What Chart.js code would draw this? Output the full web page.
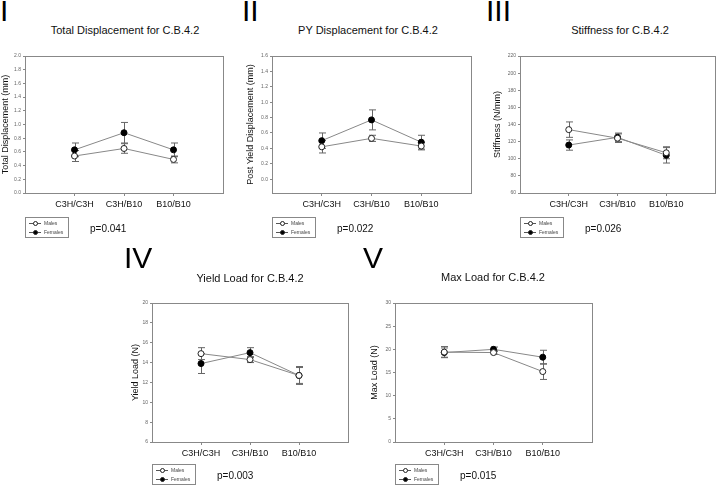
<!DOCTYPE html>
<html>
<head>
<meta charset="utf-8">
<script src="https://cdn.jsdelivr.net/npm/chart.js@4.4.1/dist/chart.umd.min.js"></script>
<style>
  html, body { margin: 0; padding: 0; background: #fff; }
  body { width: 720px; height: 488px; position: relative; overflow: hidden; font-family: "Liberation Sans", Arial, sans-serif; }
  canvas { position: absolute; }
  .roman { position: absolute; font-size: 30px; line-height: 30px; color: #000; }
  .title { position: absolute; width: 240px; margin-left: -120px; text-align: center; font-size: 11px; line-height: 12px; color: #111; }
  .leg { position: absolute; width: 44px; height: 21px; border: 1px solid #888; box-sizing: border-box; font-size: 5px; color: #444; }
  .leg .row { position: absolute; left: 0; height: 8px; line-height: 8px; }
  .leg .ln { position: absolute; left: 3px; top: 4px; width: 12px; height: 1px; background: #555; }
  .leg .mk { position: absolute; left: 7px; top: 2px; width: 3px; height: 3px; border: 1px solid #222; border-radius: 50%; }
  .leg .txt { position: absolute; left: 18px; top: 0; }
  .pval { position: absolute; font-size: 10px; line-height: 12px; color: #111; }
</style>
</head>
<body>
<script>
const categories = ["C3H/C3H", "C3H/B10", "B10/B10"];
const legendLabels = ["Males", "Females"];

// Total displacement (mm)
const totalDispMales = [0.54, 0.65, 0.49];
const totalDispMalesErr = [0.08, 0.07, 0.05];
const totalDispFemales = [0.63, 0.88, 0.63];
const totalDispFemalesErr = [0.10, 0.15, 0.10];
const totalDispTicks = [0, 0.2, 0.4, 0.6, 0.8, 1.0, 1.2, 1.4, 1.6, 1.8, 2.0];

// Post yield displacement (mm)
const pyDispMales = [0.42, 0.53, 0.43];
const pyDispMalesErr = [0.08, 0.04, 0.05];
const pyDispFemales = [0.50, 0.77, 0.48];
const pyDispFemalesErr = [0.10, 0.13, 0.09];
const pyDispTicks = [0, 0.2, 0.4, 0.6, 0.8, 1.0, 1.2, 1.4, 1.6];

// Stiffness (N/mm)
const stiffMales = [134, 124, 107];
const stiffMalesErr = [9, 5, 7];
const stiffFemales = [116, 125, 104];
const stiffFemalesErr = [6, 5, 9];
const stiffTicks = [60, 80, 100, 120, 140, 160, 180, 200, 220];

// Yield load (N)
const yieldMales = [14.9, 14.3, 12.7];
const yieldMalesErr = [0.6, 0.3, 0.8];
const yieldFemales = [13.9, 15.0, 12.7];
const yieldFemalesErr = [1.0, 0.5, 0.9];
const yieldTicks = [6, 8, 10, 12, 14, 16, 18, 20];

// Max load (N)
const maxMales = [19.4, 19.3, 15.2];
const maxMalesErr = [1.2, 0.4, 1.7];
const maxFemales = [19.3, 20.0, 18.3];
const maxFemalesErr = [1.0, 0.5, 1.5];
const maxTicks = [0, 5, 10, 15, 20, 25, 30];

const panels = [
    { numeral: "I", title: "Total Displacement for C.B.4.2", yTitle: "Total Displacement (mm)", p: "p=0.041",
      males: totalDispMales, malesErr: totalDispMalesErr, females: totalDispFemales, femalesErr: totalDispFemalesErr,
      ticks: totalDispTicks, yMin: 0, yMax: 2.0, dec: 1,
      left: 0, top: 40, width: 228, yW: 25, padTop: 16, padRight: 4, numX: 0, numY: -4, titleX: 125, titleY: 24 },
    { numeral: "II", title: "PY Displacement for C.B.4.2", yTitle: "Post Yield Displacement (mm)", p: "p=0.022",
      males: pyDispMales, malesErr: pyDispMalesErr, females: pyDispFemales, femalesErr: pyDispFemalesErr,
      ticks: pyDispTicks, yMin: -0.18, yMax: 1.6, dec: 1,
      left: 245, top: 40, width: 231, yW: 27, padTop: 16, padRight: 4, numX: 242, numY: -4, titleX: 368, titleY: 24 },
    { numeral: "III", title: "Stiffness for C.B.4.2", yTitle: "Stiffness (N/mm)", p: "p=0.026",
      males: stiffMales, malesErr: stiffMalesErr, females: stiffFemales, femalesErr: stiffFemalesErr,
      ticks: stiffTicks, yMin: 60, yMax: 220, dec: 0,
      left: 492, top: 40, width: 228, yW: 28, padTop: 16, padRight: 1, numX: 486, numY: -4, titleX: 620, titleY: 24 },
    { numeral: "IV", title: "Yield Load for C.B.4.2", yTitle: "Yield Load (N)", p: "p=0.003",
      males: yieldMales, malesErr: yieldMalesErr, females: yieldFemales, femalesErr: yieldFemalesErr,
      ticks: yieldTicks, yMin: 6, yMax: 20, dec: 0,
      left: 130, top: 290, width: 223, yW: 22, padTop: 13, padRight: 4, numX: 124, numY: 243, titleX: 250, titleY: 272 },
    { numeral: "V", title: "Max Load for C.B.4.2", yTitle: "Max Load (N)", p: "p=0.015",
      males: maxMales, malesErr: maxMalesErr, females: maxFemales, femalesErr: maxFemalesErr,
      ticks: maxTicks, yMin: 0, yMax: 30, dec: 0,
      left: 369, top: 290, width: 228, yW: 26, padTop: 13, padRight: 4, numX: 363, numY: 243, titleX: 493, titleY: 271 }
];

// error bars drawn under the markers, plus the plot frame
const errorBarPlugin = {
    id: "errorBars",
    beforeDatasetsDraw(chart) {
        const ctx = chart.ctx;
        const xs = chart.scales.x, ys = chart.scales.y;
        ctx.save();
        ctx.strokeStyle = "#666";
        ctx.lineWidth = 1;
        chart.data.datasets.forEach(ds => {
            ds.data.forEach((pt, i) => {
                const e = ds.errors[i];
                const px = Math.round(xs.getPixelForValue(pt.x)) + 0.5;
                const top = ys.getPixelForValue(pt.y + e);
                const bot = ys.getPixelForValue(pt.y - e);
                ctx.beginPath();
                ctx.moveTo(px, top); ctx.lineTo(px, bot);
                ctx.moveTo(px - 3.5, top); ctx.lineTo(px + 3.5, top);
                ctx.moveTo(px - 3.5, bot); ctx.lineTo(px + 3.5, bot);
                ctx.stroke();
            });
        });
        ctx.restore();
    },
    afterDraw(chart) {
        const a = chart.chartArea;
        const ctx = chart.ctx;
        ctx.save();
        ctx.strokeStyle = "#888";
        ctx.lineWidth = 1;
        ctx.strokeRect(Math.round(a.left) + 0.5, Math.round(a.top) + 0.5, Math.round(a.right - a.left), Math.round(a.bottom - a.top));
        ctx.restore();
    }
};

function addDiv(cls, text, left, top) {
    const d = document.createElement("div");
    d.className = cls;
    d.textContent = text;
    d.style.left = left + "px";
    d.style.top = top + "px";
    document.body.appendChild(d);
    return d;
}

function addLegend(left, top, pText) {
    const leg = document.createElement("div");
    leg.className = "leg";
    leg.style.left = left + "px";
    leg.style.top = top + "px";
    legendLabels.forEach((label, i) => {
        const row = document.createElement("div");
        row.className = "row";
        row.style.top = (1 + i * 9) + "px";
        row.innerHTML = '<i class="ln"></i><b class="mk"></b><span class="txt"></span>';
        row.querySelector(".mk").style.background = i === 0 ? "#fff" : "#000";
        row.querySelector(".txt").textContent = label;
        leg.appendChild(row);
    });
    document.body.appendChild(leg);
    addDiv("pval", pText, left + 65, top + 6);
}

function toPoints(values) {
    return values.map((v, i) => ({ x: i + 1, y: v }));
}

panels.forEach(p => {
    const height = 180;
    const canvas = document.createElement("canvas");
    canvas.width = p.width;
    canvas.height = height;
    canvas.style.left = p.left + "px";
    canvas.style.top = p.top + "px";
    canvas.style.width = p.width + "px";
    canvas.style.height = height + "px";
    document.body.appendChild(canvas);

    addDiv("roman", p.numeral, p.numX, p.numY);
    addDiv("title", p.title, p.titleX, p.titleY);

    const xAxisH = height - p.padTop - 137 - (p.top === 290 ? 2 : 0);

    new Chart(canvas.getContext("2d"), {
        type: "line",
        data: {
            datasets: [
                {
                    label: legendLabels[0],
                    data: toPoints(p.males),
                    errors: p.malesErr,
                    borderColor: "#888",
                    borderWidth: 1,
                    pointStyle: "circle",
                    pointRadius: 3,
                    pointBorderWidth: 1,
                    pointBackgroundColor: "#fff",
                    pointBorderColor: "#222",
                    tension: 0
                },
                {
                    label: legendLabels[1],
                    data: toPoints(p.females),
                    errors: p.femalesErr,
                    borderColor: "#888",
                    borderWidth: 1,
                    pointStyle: "circle",
                    pointRadius: 3,
                    pointBorderWidth: 1,
                    pointBackgroundColor: "#000",
                    pointBorderColor: "#000",
                    tension: 0
                }
            ]
        },
        options: {
            responsive: false,
            animation: false,
            devicePixelRatio: 1,
            layout: { padding: { top: p.padTop, right: p.padRight, left: 0, bottom: 0 } },
            plugins: { legend: { display: false }, tooltip: { enabled: false }, title: { display: false } },
            scales: {
                x: {
                    type: "linear",
                    min: 0,
                    max: 4,
                    border: { display: false },
                    grid: { drawOnChartArea: false, drawTicks: true, tickLength: 3, color: "#888" },
                    afterBuildTicks: s => { s.ticks = categories.map((c, i) => ({ value: i + 1 })); },
                    afterFit: s => { s.height = xAxisH; },
                    ticks: {
                        padding: 3,
                        color: "#111",
                        font: { family: "Liberation Sans", size: 9 },
                        maxRotation: 0,
                        callback: v => categories[v - 1]
                    }
                },
                y: {
                    type: "linear",
                    min: p.yMin,
                    max: p.yMax,
                    border: { display: false },
                    grid: { drawOnChartArea: false, drawTicks: true, tickLength: 2, color: "#888" },
                    afterBuildTicks: s => { s.ticks = p.ticks.map(v => ({ value: v })); },
                    afterFit: s => { s.width = p.yW; },
                    title: {
                        display: true,
                        text: p.yTitle,
                        color: "#111",
                        font: { family: "Liberation Sans", size: 9 },
                        padding: 0
                    },
                    ticks: {
                        padding: 2,
                        color: "#666",
                        font: { family: "Liberation Sans", size: 5 },
                        callback: v => v.toFixed(p.dec)
                    }
                }
            }
        },
        plugins: [errorBarPlugin]
    });

    addLegend(p.left + p.yW, p.top + p.padTop + 137 + 24, p.p);
});
</script>
</body>
</html>
